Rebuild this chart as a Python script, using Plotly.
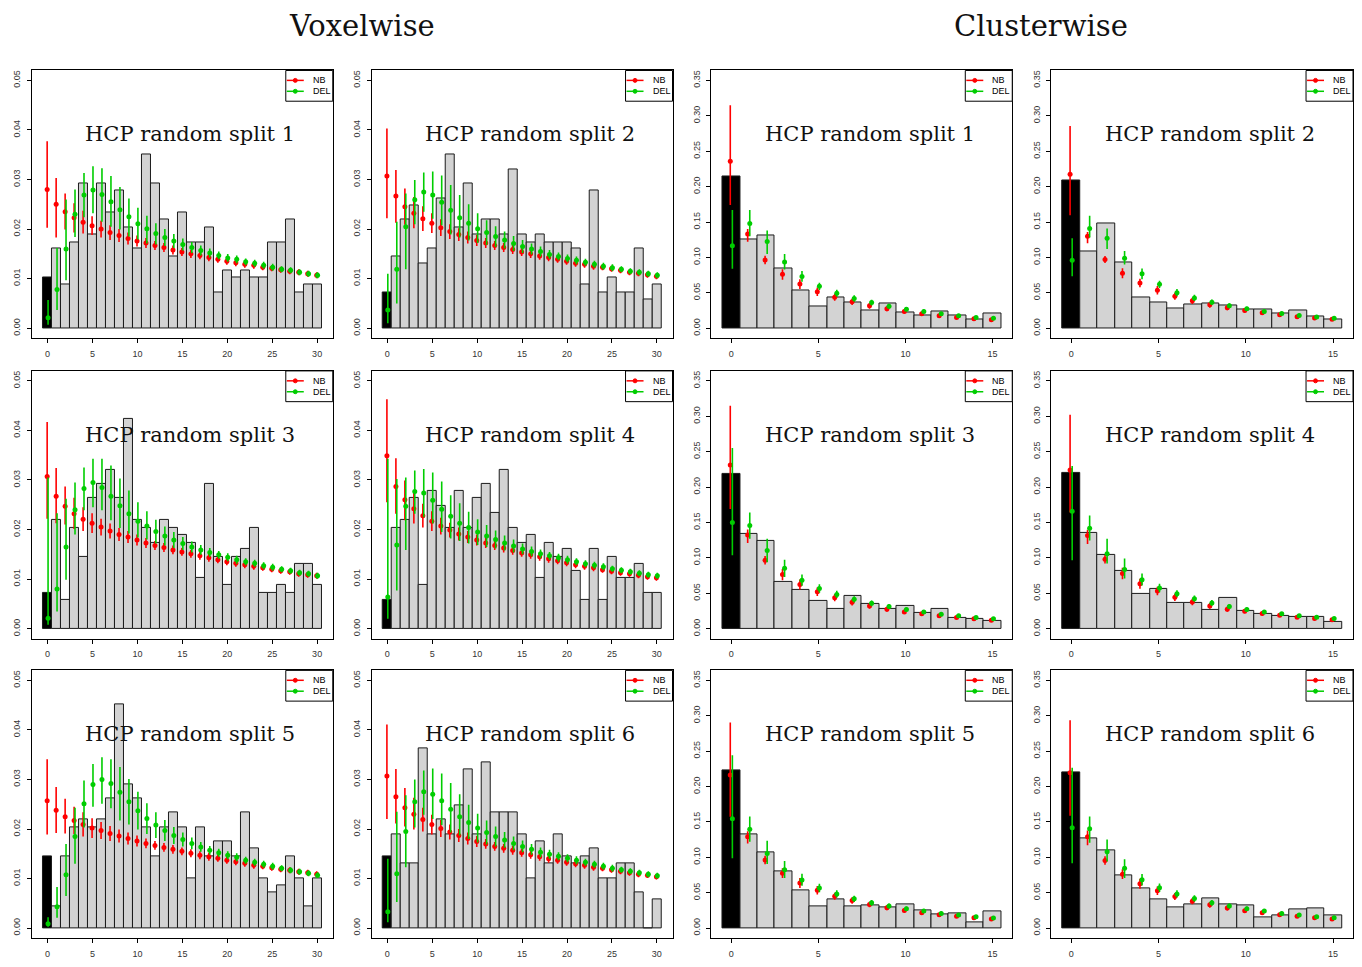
import plotly.graph_objects as go

W, H = 1362, 967
PAGE_MARGIN = 8  # browser body margin around the plot div
RED = '#FF0000'
GREEN = '#00CD00'

vox_x = list(range(31))
clu_x = list(range(16))
vox_yticks = [0.0, 0.01, 0.02, 0.03, 0.04, 0.05]
clu_yticks = [0.0, 0.05, 0.10, 0.15, 0.20, 0.25, 0.30, 0.35]
vox_xticks = [0, 5, 10, 15, 20, 25, 30]
clu_xticks = [0, 5, 10, 15]

# ---------------- Voxelwise ----------------
vox1_hist = [0.0102, 0.0160, 0.0088, 0.0174, 0.0292, 0.0190, 0.0292, 0.0233, 0.0277, 0.0204, 0.0160, 0.0350, 0.0292, 0.0219, 0.0145, 0.0233,
             0.0174, 0.0174, 0.0204, 0.0073, 0.0117, 0.0102, 0.0117, 0.0102, 0.0102, 0.0174, 0.0174, 0.0219, 0.0073, 0.0088, 0.0088]
vox1_nb = [0.0280, 0.0250, 0.0235, 0.0223, 0.0214, 0.0207, 0.0200, 0.0193, 0.0187, 0.0181, 0.0176, 0.0172, 0.0167, 0.0163, 0.0158, 0.0154,
           0.0150, 0.0147, 0.0143, 0.0139, 0.0135, 0.0132, 0.0129, 0.0127, 0.0123, 0.0121, 0.0118, 0.0115, 0.0113, 0.0110, 0.0107]
vox1_nb_up = [0.0097, 0.0053, 0.0037, 0.0029, 0.0023, 0.0019, 0.0017, 0.0015, 0.0013, 0.0012, 0.0011, 0.0010, 0.0009, 0.0009, 0.0009, 0.0008,
              0.0008, 0.0008, 0.0008, 0.0007, 0.0007, 0.0007, 0.0007, 0.0007, 0.0006, 0.0006, 0.0006, 0.0006, 0.0006, 0.0006, 0.0006]
vox1_nb_dn = [0.0077, 0.0067, 0.0036, 0.0030, 0.0023, 0.0019, 0.0017, 0.0015, 0.0013, 0.0012, 0.0011, 0.0010, 0.0009, 0.0009, 0.0009, 0.0008,
              0.0008, 0.0008, 0.0008, 0.0007, 0.0007, 0.0007, 0.0007, 0.0007, 0.0006, 0.0006, 0.0006, 0.0006, 0.0006, 0.0006, 0.0006]
vox1_del = [0.0021, 0.0078, 0.0160, 0.0230, 0.0269, 0.0279, 0.0270, 0.0255, 0.0239, 0.0225, 0.0211, 0.0201, 0.0191, 0.0183, 0.0176, 0.0169,
            0.0163, 0.0157, 0.0152, 0.0147, 0.0142, 0.0139, 0.0134, 0.0131, 0.0127, 0.0123, 0.0119, 0.0117, 0.0113, 0.0110, 0.0107]
vox1_del_up = [0.0036, 0.0084, 0.0100, 0.0050, 0.0044, 0.0048, 0.0053, 0.0052, 0.0046, 0.0037, 0.0032, 0.0026, 0.0021, 0.0017, 0.0014, 0.0012,
               0.0011, 0.0010, 0.0009, 0.0008, 0.0008, 0.0008, 0.0007, 0.0007, 0.0007, 0.0007, 0.0006, 0.0006, 0.0006, 0.0006, 0.0006]
vox1_del_dn = [0.0014, 0.0041, 0.0063, 0.0046, 0.0045, 0.0047, 0.0055, 0.0050, 0.0040, 0.0040, 0.0032, 0.0030, 0.0022, 0.0017, 0.0014, 0.0012,
               0.0011, 0.0010, 0.0009, 0.0008, 0.0008, 0.0008, 0.0007, 0.0007, 0.0007, 0.0007, 0.0006, 0.0006, 0.0006, 0.0006, 0.0006]

vox2_hist = [0.0073, 0.0145, 0.0219, 0.0247, 0.0131, 0.0160, 0.0262, 0.0350, 0.0204, 0.0292, 0.0190, 0.0219, 0.0219, 0.0190, 0.0320, 0.0190,
             0.0174, 0.0190, 0.0174, 0.0174, 0.0174, 0.0160, 0.0088, 0.0277, 0.0073, 0.0102, 0.0073, 0.0073, 0.0160, 0.0058, 0.0088]
vox2_nb = [0.0307, 0.0267, 0.0245, 0.0232, 0.0221, 0.0212, 0.0203, 0.0195, 0.0189, 0.0183, 0.0177, 0.0172, 0.0167, 0.0163, 0.0159, 0.0154,
           0.0150, 0.0146, 0.0143, 0.0139, 0.0135, 0.0131, 0.0129, 0.0125, 0.0123, 0.0120, 0.0117, 0.0113, 0.0111, 0.0108, 0.0105]
vox2_nb_up = [0.0096, 0.0052, 0.0037, 0.0033, 0.0025, 0.0020, 0.0017, 0.0015, 0.0013, 0.0012, 0.0011, 0.0010, 0.0009, 0.0009, 0.0009, 0.0008,
              0.0008, 0.0008, 0.0008, 0.0007, 0.0007, 0.0007, 0.0007, 0.0007, 0.0006, 0.0006, 0.0006, 0.0006, 0.0006, 0.0006, 0.0006]
vox2_nb_dn = [0.0085, 0.0054, 0.0036, 0.0030, 0.0025, 0.0020, 0.0017, 0.0015, 0.0013, 0.0012, 0.0011, 0.0010, 0.0009, 0.0009, 0.0009, 0.0008,
              0.0008, 0.0008, 0.0008, 0.0007, 0.0007, 0.0007, 0.0007, 0.0007, 0.0006, 0.0006, 0.0006, 0.0006, 0.0006, 0.0006, 0.0006]
vox2_del = [0.0037, 0.0119, 0.0205, 0.0259, 0.0275, 0.0269, 0.0254, 0.0238, 0.0223, 0.0212, 0.0201, 0.0193, 0.0185, 0.0178, 0.0171, 0.0165,
            0.0160, 0.0155, 0.0149, 0.0145, 0.0141, 0.0137, 0.0133, 0.0129, 0.0125, 0.0122, 0.0119, 0.0115, 0.0113, 0.0110, 0.0107]
vox2_del_up = [0.0073, 0.0096, 0.0067, 0.0040, 0.0039, 0.0047, 0.0054, 0.0051, 0.0046, 0.0038, 0.0031, 0.0025, 0.0021, 0.0017, 0.0015, 0.0013,
               0.0011, 0.0010, 0.0009, 0.0008, 0.0008, 0.0008, 0.0007, 0.0007, 0.0007, 0.0007, 0.0006, 0.0006, 0.0006, 0.0006, 0.0006]
vox2_del_dn = [0.0027, 0.0069, 0.0086, 0.0049, 0.0040, 0.0048, 0.0046, 0.0049, 0.0040, 0.0035, 0.0029, 0.0025, 0.0021, 0.0017, 0.0015, 0.0013,
               0.0011, 0.0010, 0.0009, 0.0008, 0.0008, 0.0008, 0.0007, 0.0007, 0.0007, 0.0007, 0.0006, 0.0006, 0.0006, 0.0006, 0.0006]

vox3_hist = [0.0073, 0.0219, 0.0058, 0.0204, 0.0145, 0.0263, 0.0292, 0.0320, 0.0263, 0.0423, 0.0219, 0.0204, 0.0174, 0.0219, 0.0204, 0.0190,
             0.0174, 0.0102, 0.0292, 0.0145, 0.0088, 0.0145, 0.0160, 0.0204, 0.0073, 0.0073, 0.0088, 0.0073, 0.0131, 0.0131, 0.0088]
vox3_nb = [0.0307, 0.0267, 0.0247, 0.0232, 0.0221, 0.0213, 0.0205, 0.0197, 0.0190, 0.0185, 0.0179, 0.0173, 0.0168, 0.0164, 0.0159, 0.0155,
           0.0151, 0.0147, 0.0143, 0.0139, 0.0135, 0.0132, 0.0129, 0.0126, 0.0123, 0.0120, 0.0117, 0.0115, 0.0111, 0.0109, 0.0107]
vox3_nb_up = [0.0110, 0.0057, 0.0040, 0.0032, 0.0024, 0.0020, 0.0017, 0.0015, 0.0013, 0.0012, 0.0011, 0.0010, 0.0009, 0.0009, 0.0009, 0.0008,
              0.0008, 0.0008, 0.0008, 0.0007, 0.0007, 0.0007, 0.0007, 0.0007, 0.0006, 0.0006, 0.0006, 0.0006, 0.0006, 0.0006, 0.0006]
vox3_nb_dn = [0.0085, 0.0054, 0.0037, 0.0031, 0.0024, 0.0020, 0.0017, 0.0015, 0.0013, 0.0012, 0.0011, 0.0010, 0.0009, 0.0009, 0.0009, 0.0008,
              0.0008, 0.0008, 0.0008, 0.0007, 0.0007, 0.0007, 0.0007, 0.0007, 0.0006, 0.0006, 0.0006, 0.0006, 0.0006, 0.0006, 0.0006]
vox3_del = [0.0021, 0.0080, 0.0165, 0.0240, 0.0283, 0.0295, 0.0285, 0.0267, 0.0248, 0.0232, 0.0217, 0.0207, 0.0196, 0.0187, 0.0179, 0.0172,
            0.0165, 0.0159, 0.0154, 0.0149, 0.0144, 0.0139, 0.0135, 0.0132, 0.0127, 0.0124, 0.0120, 0.0117, 0.0113, 0.0111, 0.0107]
vox3_del_up = [0.0284, 0.0153, 0.0097, 0.0055, 0.0042, 0.0048, 0.0058, 0.0062, 0.0055, 0.0047, 0.0038, 0.0030, 0.0024, 0.0019, 0.0016, 0.0013,
               0.0011, 0.0010, 0.0009, 0.0008, 0.0008, 0.0008, 0.0007, 0.0007, 0.0007, 0.0007, 0.0006, 0.0006, 0.0006, 0.0006, 0.0006]
vox3_del_dn = [0.0013, 0.0045, 0.0066, 0.0050, 0.0044, 0.0050, 0.0046, 0.0048, 0.0045, 0.0040, 0.0033, 0.0027, 0.0024, 0.0019, 0.0016, 0.0013,
               0.0011, 0.0010, 0.0009, 0.0008, 0.0008, 0.0008, 0.0007, 0.0007, 0.0007, 0.0007, 0.0006, 0.0006, 0.0006, 0.0006, 0.0006]

vox4_hist = [0.0058, 0.0204, 0.0219, 0.0263, 0.0088, 0.0277, 0.0248, 0.0204, 0.0277, 0.0204, 0.0263, 0.0292, 0.0233, 0.0320, 0.0204, 0.0174,
             0.0190, 0.0102, 0.0174, 0.0145, 0.0160, 0.0117, 0.0058, 0.0160, 0.0058, 0.0145, 0.0102, 0.0102, 0.0131, 0.0073, 0.0073]
vox4_nb = [0.0349, 0.0287, 0.0260, 0.0242, 0.0228, 0.0217, 0.0207, 0.0199, 0.0191, 0.0185, 0.0179, 0.0173, 0.0168, 0.0163, 0.0158, 0.0153,
           0.0149, 0.0145, 0.0141, 0.0137, 0.0133, 0.0129, 0.0126, 0.0123, 0.0119, 0.0116, 0.0113, 0.0111, 0.0108, 0.0105, 0.0103]
vox4_nb_up = [0.0114, 0.0057, 0.0039, 0.0033, 0.0024, 0.0020, 0.0017, 0.0015, 0.0013, 0.0012, 0.0011, 0.0010, 0.0009, 0.0009, 0.0009, 0.0008,
              0.0008, 0.0008, 0.0008, 0.0007, 0.0007, 0.0007, 0.0007, 0.0007, 0.0006, 0.0006, 0.0006, 0.0006, 0.0006, 0.0006, 0.0006]
vox4_nb_dn = [0.0094, 0.0055, 0.0041, 0.0030, 0.0024, 0.0020, 0.0017, 0.0015, 0.0013, 0.0012, 0.0011, 0.0010, 0.0009, 0.0009, 0.0009, 0.0008,
              0.0008, 0.0008, 0.0008, 0.0007, 0.0007, 0.0007, 0.0007, 0.0007, 0.0006, 0.0006, 0.0006, 0.0006, 0.0006, 0.0006, 0.0006]
vox4_del = [0.0064, 0.0169, 0.0247, 0.0277, 0.0274, 0.0259, 0.0241, 0.0227, 0.0213, 0.0204, 0.0195, 0.0187, 0.0180, 0.0173, 0.0167, 0.0161,
            0.0156, 0.0151, 0.0147, 0.0143, 0.0139, 0.0135, 0.0131, 0.0128, 0.0125, 0.0121, 0.0118, 0.0115, 0.0112, 0.0109, 0.0107]
vox4_del_up = [0.0279, 0.0133, 0.0058, 0.0042, 0.0048, 0.0056, 0.0056, 0.0042, 0.0040, 0.0032, 0.0026, 0.0022, 0.0018, 0.0015, 0.0013, 0.0011,
               0.0010, 0.0009, 0.0008, 0.0008, 0.0008, 0.0007, 0.0007, 0.0007, 0.0007, 0.0006, 0.0006, 0.0006, 0.0006, 0.0006, 0.0006]
vox4_del_dn = [0.0044, 0.0092, 0.0088, 0.0045, 0.0049, 0.0047, 0.0046, 0.0045, 0.0036, 0.0032, 0.0026, 0.0022, 0.0018, 0.0015, 0.0013, 0.0011,
               0.0010, 0.0009, 0.0008, 0.0008, 0.0008, 0.0007, 0.0007, 0.0007, 0.0007, 0.0006, 0.0006, 0.0006, 0.0006, 0.0006, 0.0006]

vox5_hist = [0.0145, 0.0043, 0.0145, 0.0203, 0.0219, 0.0203, 0.0219, 0.0262, 0.0451, 0.0291, 0.0262, 0.0203, 0.0145, 0.0203, 0.0233, 0.0203,
             0.0101, 0.0203, 0.0145, 0.0175, 0.0175, 0.0145, 0.0233, 0.0160, 0.0101, 0.0073, 0.0087, 0.0145, 0.0101, 0.0043, 0.0101]
vox5_nb = [0.0257, 0.0238, 0.0225, 0.0217, 0.0209, 0.0202, 0.0197, 0.0191, 0.0186, 0.0181, 0.0176, 0.0171, 0.0167, 0.0163, 0.0159, 0.0155,
           0.0151, 0.0147, 0.0144, 0.0141, 0.0137, 0.0134, 0.0131, 0.0127, 0.0125, 0.0122, 0.0119, 0.0117, 0.0114, 0.0112, 0.0109]
vox5_nb_up = [0.0084, 0.0047, 0.0036, 0.0028, 0.0025, 0.0020, 0.0017, 0.0015, 0.0013, 0.0012, 0.0011, 0.0010, 0.0009, 0.0009, 0.0009, 0.0008,
              0.0008, 0.0008, 0.0008, 0.0007, 0.0007, 0.0007, 0.0007, 0.0007, 0.0006, 0.0006, 0.0006, 0.0006, 0.0006, 0.0006, 0.0006]
vox5_nb_dn = [0.0068, 0.0046, 0.0034, 0.0027, 0.0024, 0.0020, 0.0017, 0.0015, 0.0013, 0.0012, 0.0011, 0.0010, 0.0009, 0.0009, 0.0009, 0.0008,
              0.0008, 0.0008, 0.0008, 0.0007, 0.0007, 0.0007, 0.0007, 0.0007, 0.0006, 0.0006, 0.0006, 0.0006, 0.0006, 0.0006, 0.0006]
vox5_del = [0.0009, 0.0043, 0.0108, 0.0185, 0.0251, 0.0290, 0.0300, 0.0292, 0.0274, 0.0255, 0.0237, 0.0221, 0.0208, 0.0197, 0.0187, 0.0179,
            0.0171, 0.0164, 0.0157, 0.0152, 0.0147, 0.0143, 0.0137, 0.0133, 0.0129, 0.0125, 0.0121, 0.0117, 0.0114, 0.0111, 0.0107]
vox5_del_up = [0.0013, 0.0040, 0.0062, 0.0058, 0.0047, 0.0041, 0.0045, 0.0049, 0.0051, 0.0046, 0.0038, 0.0031, 0.0026, 0.0021, 0.0017, 0.0014,
               0.0012, 0.0010, 0.0009, 0.0008, 0.0008, 0.0008, 0.0007, 0.0007, 0.0007, 0.0007, 0.0006, 0.0006, 0.0006, 0.0006, 0.0006]
vox5_del_dn = [0.0006, 0.0022, 0.0043, 0.0055, 0.0048, 0.0045, 0.0049, 0.0050, 0.0057, 0.0046, 0.0038, 0.0031, 0.0026, 0.0021, 0.0017, 0.0014,
               0.0012, 0.0010, 0.0009, 0.0008, 0.0008, 0.0008, 0.0007, 0.0007, 0.0007, 0.0007, 0.0006, 0.0006, 0.0006, 0.0006, 0.0006]

vox6_hist = [0.0145, 0.0189, 0.0130, 0.0130, 0.0363, 0.0189, 0.0219, 0.0189, 0.0247, 0.0320, 0.0189, 0.0335, 0.0233, 0.0233, 0.0233, 0.0189,
             0.0101, 0.0175, 0.0130, 0.0189, 0.0145, 0.0130, 0.0145, 0.0160, 0.0101, 0.0101, 0.0130, 0.0130, 0.0073, 0.0000, 0.0058]
vox6_nb = [0.0307, 0.0265, 0.0243, 0.0230, 0.0219, 0.0209, 0.0201, 0.0194, 0.0187, 0.0181, 0.0175, 0.0170, 0.0165, 0.0161, 0.0157, 0.0152,
           0.0148, 0.0144, 0.0140, 0.0137, 0.0133, 0.0130, 0.0127, 0.0123, 0.0121, 0.0118, 0.0115, 0.0112, 0.0109, 0.0107, 0.0104]
vox6_nb_up = [0.0104, 0.0056, 0.0040, 0.0033, 0.0024, 0.0020, 0.0017, 0.0015, 0.0013, 0.0012, 0.0011, 0.0010, 0.0009, 0.0009, 0.0009, 0.0008,
              0.0008, 0.0008, 0.0008, 0.0007, 0.0007, 0.0007, 0.0007, 0.0007, 0.0006, 0.0006, 0.0006, 0.0006, 0.0006, 0.0006, 0.0006]
vox6_nb_dn = [0.0087, 0.0054, 0.0038, 0.0031, 0.0024, 0.0020, 0.0017, 0.0015, 0.0013, 0.0012, 0.0011, 0.0010, 0.0009, 0.0009, 0.0009, 0.0008,
              0.0008, 0.0008, 0.0008, 0.0007, 0.0007, 0.0007, 0.0007, 0.0007, 0.0006, 0.0006, 0.0006, 0.0006, 0.0006, 0.0006, 0.0006]
vox6_del = [0.0033, 0.0110, 0.0195, 0.0255, 0.0275, 0.0270, 0.0257, 0.0240, 0.0225, 0.0213, 0.0202, 0.0193, 0.0185, 0.0178, 0.0171, 0.0165,
            0.0159, 0.0153, 0.0149, 0.0145, 0.0141, 0.0137, 0.0133, 0.0129, 0.0125, 0.0121, 0.0118, 0.0115, 0.0112, 0.0109, 0.0106]
vox6_del_up = [0.0107, 0.0125, 0.0073, 0.0045, 0.0043, 0.0052, 0.0055, 0.0053, 0.0045, 0.0036, 0.0029, 0.0024, 0.0020, 0.0016, 0.0014, 0.0012,
               0.0011, 0.0010, 0.0009, 0.0008, 0.0008, 0.0008, 0.0007, 0.0007, 0.0007, 0.0007, 0.0006, 0.0006, 0.0006, 0.0006, 0.0006]
vox6_del_dn = [0.0021, 0.0057, 0.0072, 0.0052, 0.0046, 0.0050, 0.0049, 0.0047, 0.0038, 0.0033, 0.0029, 0.0024, 0.0020, 0.0016, 0.0014, 0.0012,
               0.0011, 0.0010, 0.0009, 0.0008, 0.0008, 0.0008, 0.0007, 0.0007, 0.0007, 0.0007, 0.0006, 0.0006, 0.0006, 0.0006, 0.0006]

# ---------------- Clusterwise ----------------
clu1_hist = [0.215, 0.125, 0.131, 0.0843, 0.0536, 0.0303, 0.0438, 0.0363, 0.0247, 0.0354, 0.0219, 0.0177, 0.0233, 0.0177, 0.0130, 0.0205]
clu1_nb = [0.236, 0.133, 0.0965, 0.0764, 0.0624, 0.0517, 0.0438, 0.0373, 0.0317, 0.0275, 0.0238, 0.0205, 0.0177, 0.0154, 0.0135, 0.0121]
clu1_nb_up = [0.079, 0.007, 0.006, 0.007, 0.007, 0.006, 0.005, 0.0045, 0.004, 0.0035, 0.003, 0.0028, 0.0025, 0.0022, 0.002, 0.002]
clu1_nb_dn = [0.062, 0.011, 0.006, 0.008, 0.007, 0.006, 0.005, 0.0045, 0.004, 0.0035, 0.003, 0.0028, 0.0025, 0.0022, 0.002, 0.002]
clu1_del = [0.1165, 0.148, 0.1225, 0.0937, 0.0732, 0.0592, 0.0494, 0.042, 0.0363, 0.0312, 0.027, 0.0238, 0.0205, 0.0177, 0.0154, 0.014]
clu1_del_up = [0.0505, 0.019, 0.0155, 0.0113, 0.0075, 0.005, 0.005, 0.0045, 0.004, 0.0035, 0.003, 0.0028, 0.0025, 0.0022, 0.002, 0.0018]
clu1_del_dn = [0.0325, 0.018, 0.0175, 0.0107, 0.0075, 0.005, 0.005, 0.0045, 0.004, 0.0035, 0.003, 0.0028, 0.0025, 0.0022, 0.002, 0.0018]

clu2_hist = [0.209, 0.1086, 0.148, 0.0932, 0.0438, 0.0363, 0.0275, 0.0331, 0.0354, 0.0317, 0.0261, 0.0261, 0.0214, 0.0247, 0.0163, 0.0121]
clu2_nb = [0.2176, 0.130, 0.097, 0.0778, 0.0638, 0.0536, 0.0452, 0.0387, 0.0331, 0.0289, 0.0252, 0.0219, 0.0191, 0.0163, 0.0144, 0.0126]
clu2_nb_up = [0.068, 0.006, 0.005, 0.007, 0.006, 0.006, 0.005, 0.0045, 0.004, 0.0035, 0.003, 0.0028, 0.0025, 0.0022, 0.002, 0.002]
clu2_nb_dn = [0.058, 0.010, 0.005, 0.007, 0.006, 0.006, 0.005, 0.0045, 0.004, 0.0035, 0.003, 0.0028, 0.0025, 0.0022, 0.002, 0.002]
clu2_del = [0.096, 0.141, 0.127, 0.0988, 0.0769, 0.062, 0.0503, 0.0429, 0.0368, 0.0317, 0.0275, 0.0238, 0.021, 0.0182, 0.0158, 0.014]
clu2_del_up = [0.031, 0.018, 0.014, 0.0102, 0.0075, 0.005, 0.005, 0.0045, 0.004, 0.0035, 0.003, 0.0028, 0.0025, 0.0022, 0.002, 0.0018]
clu2_del_dn = [0.0224, 0.013, 0.015, 0.0088, 0.0075, 0.005, 0.005, 0.0045, 0.004, 0.0035, 0.003, 0.0028, 0.0025, 0.0022, 0.002, 0.0018]

clu3_hist = [0.219, 0.134, 0.1237, 0.0658, 0.0551, 0.0392, 0.0275, 0.0467, 0.0355, 0.0275, 0.0322, 0.0219, 0.0275, 0.0149, 0.0145, 0.0117]
clu3_nb = [0.231, 0.1325, 0.0966, 0.0765, 0.0625, 0.0523, 0.0439, 0.0373, 0.0322, 0.0275, 0.0238, 0.021, 0.0182, 0.0159, 0.014, 0.0121]
clu3_nb_up = [0.084, 0.0075, 0.006, 0.008, 0.007, 0.006, 0.005, 0.0045, 0.004, 0.0035, 0.003, 0.0028, 0.0025, 0.0022, 0.002, 0.002]
clu3_nb_dn = [0.062, 0.0115, 0.006, 0.008, 0.007, 0.006, 0.005, 0.0045, 0.004, 0.0035, 0.003, 0.0028, 0.0025, 0.0022, 0.002, 0.002]
clu3_del = [0.150, 0.1456, 0.1106, 0.0854, 0.0686, 0.0569, 0.0485, 0.0415, 0.0359, 0.0313, 0.0271, 0.0238, 0.0205, 0.0182, 0.0159, 0.014]
clu3_del_up = [0.105, 0.0184, 0.0164, 0.012, 0.008, 0.006, 0.005, 0.0045, 0.004, 0.0035, 0.003, 0.0028, 0.0025, 0.0022, 0.002, 0.0018]
clu3_del_dn = [0.0464, 0.0186, 0.0166, 0.0124, 0.008, 0.006, 0.005, 0.0045, 0.004, 0.0035, 0.003, 0.0028, 0.0025, 0.0022, 0.002, 0.0018]

clu4_hist = [0.2203, 0.1354, 0.1036, 0.0817, 0.0485, 0.0565, 0.0364, 0.0364, 0.0266, 0.0434, 0.0252, 0.021, 0.0187, 0.0173, 0.0173, 0.0103]
clu4_nb = [0.224, 0.1316, 0.098, 0.078, 0.0635, 0.0532, 0.0443, 0.0378, 0.0322, 0.0275, 0.0247, 0.0215, 0.0191, 0.0163, 0.0145, 0.0126]
clu4_nb_up = [0.078, 0.008, 0.006, 0.008, 0.007, 0.006, 0.005, 0.0045, 0.004, 0.0035, 0.003, 0.0028, 0.0025, 0.0022, 0.002, 0.002]
clu4_nb_dn = [0.060, 0.012, 0.006, 0.008, 0.007, 0.006, 0.005, 0.0045, 0.004, 0.0035, 0.003, 0.0028, 0.0025, 0.0022, 0.002, 0.002]
clu4_del = [0.1657, 0.1419, 0.106, 0.0835, 0.0691, 0.0574, 0.0495, 0.0425, 0.0364, 0.0313, 0.0271, 0.0238, 0.021, 0.0182, 0.0163, 0.0145]
clu4_del_up = [0.064, 0.018, 0.021, 0.0155, 0.009, 0.006, 0.005, 0.0045, 0.004, 0.0035, 0.003, 0.0028, 0.0025, 0.0022, 0.002, 0.0018]
clu4_del_dn = [0.069, 0.0173, 0.014, 0.0125, 0.008, 0.006, 0.005, 0.0045, 0.004, 0.0035, 0.003, 0.0028, 0.0025, 0.0022, 0.002, 0.0018]

clu5_hist = [0.2229, 0.1322, 0.1075, 0.080, 0.054, 0.0307, 0.041, 0.0307, 0.0321, 0.0289, 0.0335, 0.0247, 0.0191, 0.0205, 0.0079, 0.0233]
clu5_nb = [0.2164, 0.129, 0.0963, 0.0777, 0.0638, 0.0535, 0.0451, 0.0391, 0.0335, 0.0289, 0.0251, 0.0219, 0.0191, 0.0168, 0.0149, 0.013]
clu5_nb_up = [0.074, 0.008, 0.006, 0.007, 0.007, 0.006, 0.005, 0.0045, 0.004, 0.0035, 0.003, 0.0028, 0.0025, 0.0022, 0.002, 0.002]
clu5_nb_dn = [0.059, 0.0093, 0.006, 0.007, 0.007, 0.006, 0.005, 0.0045, 0.004, 0.0035, 0.003, 0.0028, 0.0025, 0.0022, 0.002, 0.002]
clu5_del = [0.1545, 0.1396, 0.1056, 0.0824, 0.0679, 0.0568, 0.0484, 0.0414, 0.0358, 0.0312, 0.0275, 0.0242, 0.0209, 0.0186, 0.0163, 0.0144]
clu5_del_up = [0.0898, 0.0182, 0.0177, 0.0126, 0.009, 0.006, 0.005, 0.0045, 0.004, 0.0035, 0.003, 0.0028, 0.0025, 0.0022, 0.002, 0.0018]
clu5_del_dn = [0.0558, 0.0177, 0.0149, 0.0117, 0.008, 0.006, 0.005, 0.0045, 0.004, 0.0035, 0.003, 0.0028, 0.0025, 0.0022, 0.002, 0.0018]

clu6_hist = [0.2206, 0.1275, 0.1103, 0.074, 0.0563, 0.0405, 0.0289, 0.0335, 0.0423, 0.0335, 0.0316, 0.0149, 0.0186, 0.0261, 0.0275, 0.0186]
clu6_nb = [0.2196, 0.129, 0.0954, 0.0763, 0.0628, 0.053, 0.0447, 0.0382, 0.033, 0.0284, 0.0247, 0.0219, 0.0191, 0.0168, 0.0149, 0.013]
clu6_nb_up = [0.074, 0.009, 0.006, 0.007, 0.007, 0.006, 0.005, 0.0045, 0.004, 0.0035, 0.003, 0.0028, 0.0025, 0.0022, 0.002, 0.002]
clu6_nb_dn = [0.061, 0.012, 0.006, 0.007, 0.007, 0.006, 0.005, 0.0045, 0.004, 0.0035, 0.003, 0.0028, 0.0025, 0.0022, 0.002, 0.002]
clu6_del = [0.1419, 0.1405, 0.108, 0.0847, 0.0684, 0.0572, 0.0484, 0.0419, 0.0358, 0.0312, 0.0275, 0.0242, 0.0209, 0.0186, 0.0163, 0.0149]
clu6_del_up = [0.0847, 0.0173, 0.0172, 0.0126, 0.008, 0.006, 0.005, 0.0045, 0.004, 0.0035, 0.003, 0.0028, 0.0025, 0.0022, 0.002, 0.0018]
clu6_del_dn = [0.0502, 0.020, 0.014, 0.0137, 0.008, 0.006, 0.005, 0.0045, 0.004, 0.0035, 0.003, 0.0028, 0.0025, 0.0022, 0.002, 0.0018]

# panel frames in window pixels (left, right) and (top, bottom)
cols_px = [(32, 333), (372, 673), (712, 1013), (1052, 1354)]
rows_px = [(71, 341), (374, 644), (676, 946)]


def vox(n, hist, nb, nb_up, nb_dn, de, de_up, de_dn):
    return dict(kind='vox', n=n, hist=hist, nb=nb, nb_up=nb_up, nb_dn=nb_dn,
                de=de, de_up=de_up, de_dn=de_dn)


def clu(n, hist, nb, nb_up, nb_dn, de, de_up, de_dn):
    return dict(kind='clu', n=n, hist=hist, nb=nb, nb_up=nb_up, nb_dn=nb_dn,
                de=de, de_up=de_up, de_dn=de_dn)


grid = [
    [vox(1, vox1_hist, vox1_nb, vox1_nb_up, vox1_nb_dn, vox1_del, vox1_del_up, vox1_del_dn),
     vox(2, vox2_hist, vox2_nb, vox2_nb_up, vox2_nb_dn, vox2_del, vox2_del_up, vox2_del_dn),
     clu(1, clu1_hist, clu1_nb, clu1_nb_up, clu1_nb_dn, clu1_del, clu1_del_up, clu1_del_dn),
     clu(2, clu2_hist, clu2_nb, clu2_nb_up, clu2_nb_dn, clu2_del, clu2_del_up, clu2_del_dn)],
    [vox(3, vox3_hist, vox3_nb, vox3_nb_up, vox3_nb_dn, vox3_del, vox3_del_up, vox3_del_dn),
     vox(4, vox4_hist, vox4_nb, vox4_nb_up, vox4_nb_dn, vox4_del, vox4_del_up, vox4_del_dn),
     clu(3, clu3_hist, clu3_nb, clu3_nb_up, clu3_nb_dn, clu3_del, clu3_del_up, clu3_del_dn),
     clu(4, clu4_hist, clu4_nb, clu4_nb_up, clu4_nb_dn, clu4_del, clu4_del_up, clu4_del_dn)],
    [vox(5, vox5_hist, vox5_nb, vox5_nb_up, vox5_nb_dn, vox5_del, vox5_del_up, vox5_del_dn),
     vox(6, vox6_hist, vox6_nb, vox6_nb_up, vox6_nb_dn, vox6_del, vox6_del_up, vox6_del_dn),
     clu(5, clu5_hist, clu5_nb, clu5_nb_up, clu5_nb_dn, clu5_del, clu5_del_up, clu5_del_dn),
     clu(6, clu6_hist, clu6_nb, clu6_nb_up, clu6_nb_dn, clu6_del, clu6_del_up, clu6_del_dn)],
]

FW, FH = W - 2 * PAGE_MARGIN, H - 2 * PAGE_MARGIN

fig = go.Figure()
layout = {}
shapes = []
annotations = []
tickfont = dict(family='Liberation Sans, Arial', size=9, color='#333333')


def px_x(v):
    return (v - PAGE_MARGIN) / FW


def px_y(v):
    return 1 - (v - PAGE_MARGIN) / FH


k = 0
for r, row in enumerate(grid):
    for c, p in enumerate(row):
        k += 1
        xa = 'x' if k == 1 else 'x%d' % k
        ya = 'y' if k == 1 else 'y%d' % k
        if p['kind'] == 'vox':
            xs, xr, yr, off = vox_x, [-1.74, 31.74], [-0.002, 0.052], 0.05
            xt, yt = vox_xticks, vox_yticks
        else:
            xs, xr, yr, off = clu_x, [-1.14, 16.14], [-0.014, 0.364], 0.06
            xt, yt = clu_xticks, clu_yticks

        bar_colors = ['black'] + ['#D3D3D3'] * (len(xs) - 1)
        fig.add_trace(go.Bar(x=xs, y=p['hist'], width=1,
                             marker=dict(color=bar_colors, line=dict(color='#1a1a1a', width=1)),
                             xaxis=xa, yaxis=ya, showlegend=False, hoverinfo='skip'))
        for key, color, dx in (('nb', RED, -off), ('de', GREEN, off)):
            fig.add_trace(go.Scatter(
                x=[v + dx for v in xs], y=p[key], mode='markers',
                marker=dict(color=color, size=5),
                error_y=dict(type='data', symmetric=False, array=p[key + '_up'],
                             arrayminus=p[key + '_dn'], color=color, thickness=1.6, width=0),
                xaxis=xa, yaxis=ya, showlegend=False, hoverinfo='skip'))

        x0, x1 = cols_px[c]
        y0, y1 = rows_px[r]
        common = dict(showline=True, mirror=True, linecolor='black', linewidth=1,
                      ticks='outside', ticklen=4, tickcolor='black', tickwidth=1,
                      showgrid=False, zeroline=False, tickfont=tickfont, fixedrange=True)
        layout['xaxis' if k == 1 else 'xaxis%d' % k] = dict(
            domain=[px_x(x0), px_x(x1)], anchor=ya, range=xr,
            tickvals=xt, ticktext=[str(t) for t in xt], ticklabelstandoff=3, **common)
        layout['yaxis' if k == 1 else 'yaxis%d' % k] = dict(
            domain=[px_y(y1), px_y(y0)], anchor=xa, range=yr,
            tickvals=yt, ticktext=['%.2f' % t for t in yt], tickangle=-90,
            ticklabelstandoff=3, **common)

        # panel title
        annotations.append(dict(text='HCP random split %d' % p['n'],
                                xref=xa + ' domain', yref=ya + ' domain', x=0.526, y=0.762,
                                showarrow=False, xanchor='center', yanchor='middle',
                                font=dict(family='DejaVu Serif', size=21, color='#111111')))

        # legend box (R style) in the top-right corner of the panel
        R, T = x1, y0
        shapes.append(dict(type='rect', xref='paper', yref='paper',
                           x0=px_x(R - 47), x1=px_x(R), y0=px_y(T + 31), y1=px_y(T),
                           line=dict(color='black', width=1), fillcolor='white'))
        for i, (name, color) in enumerate((('NB', RED), ('DEL', GREEN))):
            yy = T + 10 + 11 * i
            shapes.append(dict(type='line', xref='paper', yref='paper',
                               x0=px_x(R - 46), x1=px_x(R - 29), y0=px_y(yy), y1=px_y(yy),
                               line=dict(color=color, width=1.5)))
            shapes.append(dict(type='circle', xref='paper', yref='paper',
                               x0=px_x(R - 39.5), x1=px_x(R - 35.5), y0=px_y(yy + 2), y1=px_y(yy - 2),
                               line=dict(color=color, width=1), fillcolor=color))
            annotations.append(dict(text=name, xref='paper', yref='paper',
                                    x=px_x(R - 22), y=px_y(yy), xanchor='left', yanchor='middle',
                                    showarrow=False,
                                    font=dict(family='Liberation Sans, Arial', size=9, color='black')))

for label, cx in (('Voxelwise', 362), ('Clusterwise', 1042)):
    annotations.append(dict(text=label, xref='paper', yref='paper', x=px_x(cx), y=1,
                            showarrow=False, xanchor='center', yanchor='top', borderpad=0,
                            font=dict(family='DejaVu Serif', size=29, color='#111111')))

fig.update_layout(width=FW, height=FH, margin=dict(l=0, r=0, t=0, b=0),
                  paper_bgcolor='white', plot_bgcolor='white', bargap=0,
                  shapes=shapes, annotations=annotations, **layout)

fig.write_html("out.html")
